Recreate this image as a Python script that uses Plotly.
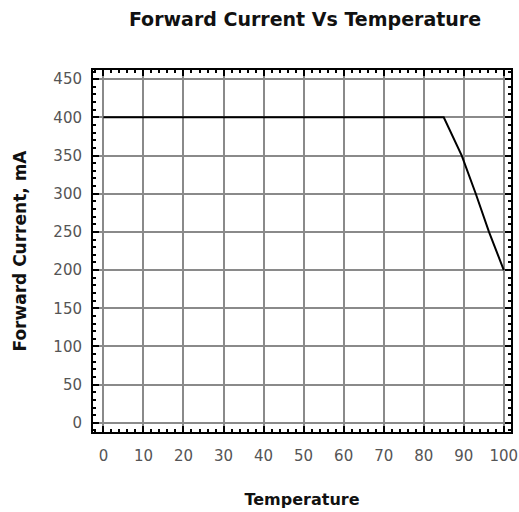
import plotly.graph_objects as go

temperature = [0, 85, 89.5, 93, 96.3, 100]
forward_current = [400, 400, 350, 300, 250, 200]

x_ticks = [0, 10, 20, 30, 40, 50, 60, 70, 80, 90, 100]
y_ticks = [0, 50, 100, 150, 200, 250, 300, 350, 400, 450]

fig = go.Figure()
fig.add_trace(go.Scatter(x=temperature, y=forward_current, mode="lines",
                         line=dict(color="black", width=2), showlegend=False))

font_main = "DejaVu Sans, Arial, sans-serif"

W, H = 519, 512
fig.update_layout(
    width=W, height=H,
    margin=dict(l=93, r=8, t=70, b=80, autoexpand=False),
    paper_bgcolor="white", plot_bgcolor="white",
    title=dict(text="<b>Forward Current Vs Temperature</b>", x=305/W, xanchor="center",
               y=1 - 19/H, yanchor="middle",
               font=dict(family=font_main, size=19, color="#111")),
    font=dict(family=font_main),
)

fig.update_xaxes(
    range=[-2.6, 101.8], tickvals=x_ticks, ticktext=[str(v) for v in x_ticks],
    showgrid=True, gridcolor="#8a8a8a", gridwidth=1.5,
    showline=True, linecolor="black", linewidth=2, mirror="allticks",
    ticks="inside", ticklen=6, tickcolor="black", tickwidth=1.5,
    minor=dict(dtick=2, ticks="inside", ticklen=3, tickcolor="black", showgrid=False),
    zeroline=False, automargin=False,
    tickfont=dict(family=font_main, size=15, color="#555"),
    ticklabelstandoff=9,
    title=dict(text="<b>Temperature</b>", font=dict(family=font_main, size=16, color="#111"),
               standoff=30),
)
fig.update_yaxes(
    range=[-12, 462], tickvals=y_ticks, ticktext=[str(v) for v in y_ticks],
    showgrid=True, gridcolor="#8a8a8a", gridwidth=1.5,
    showline=True, linecolor="black", linewidth=2, mirror="allticks",
    ticks="inside", ticklen=6, tickcolor="black", tickwidth=1.5,
    minor=dict(dtick=10, ticks="inside", ticklen=3, tickcolor="black", showgrid=False),
    zeroline=False, automargin=False,
    tickfont=dict(family=font_main, size=15, color="#555"),
    ticklabelstandoff=6,
    title=dict(text="<b>Forward Current, mA</b>", font=dict(family=font_main, size=17, color="#111"),
               standoff=22),
)

fig.write_html(
    "out.html",
    config={"displayModeBar": False},
    post_script="document.body.style.margin='0';document.documentElement.style.overflow='hidden';",
)
